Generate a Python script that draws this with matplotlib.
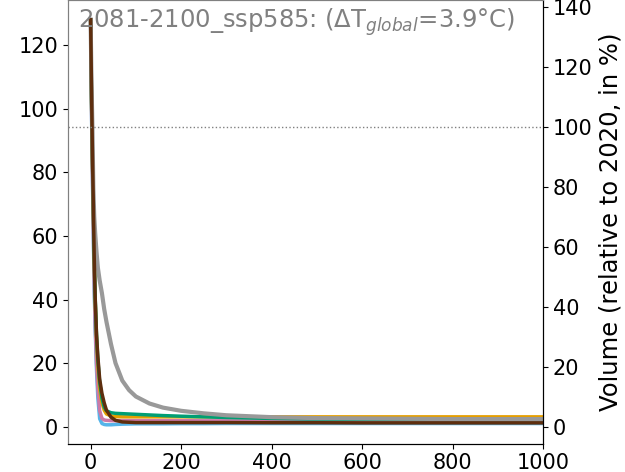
import matplotlib
matplotlib.use("Agg")
import matplotlib.pyplot as plt

# simulation years (shared x grid for all runs)
years = [0, 2, 4, 6, 8, 10, 13, 16, 20, 25, 30, 35, 45, 55, 70, 85, 100,
         130, 160, 200, 250, 300, 400, 500, 600, 800, 1000]

# glacier volume per run (same units as left axis)
vol_lightblue = [128, 98, 78, 60, 43, 31, 18, 9, 2.5, 1.0, 0.7, 0.6, 0.6, 0.7, 0.8, 0.85, 0.9,
                 0.9, 0.9, 0.95, 0.95, 1.0, 1.0, 1.0, 1.0, 1.0, 1.0]
vol_pink = [128, 100, 80, 62, 45, 33, 20, 12, 5, 2.6, 2.1, 2.0, 1.9, 1.9, 1.9, 1.9, 1.9,
            1.9, 1.9, 1.9, 1.85, 1.85, 1.8, 1.8, 1.8, 1.8, 1.8]
vol_orange = [128, 102, 84, 68, 52, 40, 28, 19, 12, 7.5, 5.2, 4.0, 3.4, 3.2, 3.1, 3.1, 3.1,
              3.1, 3.1, 3.1, 3.1, 3.1, 3.1, 3.1, 3.1, 3.1, 3.1]
vol_green = [128, 103, 85, 69, 53, 41, 29, 21, 14, 9, 6.2, 5.0, 4.4, 4.2, 4.1, 4.0, 3.9,
             3.7, 3.5, 3.3, 3.1, 2.9, 2.6, 2.4, 2.3, 2.2, 2.2]
vol_gray = [128, 108, 94, 75, 66, 61, 55, 50, 46, 42, 37, 33, 26, 20, 14.5, 11.5, 9.5,
            7.3, 6.0, 5.0, 4.2, 3.6, 3.0, 2.7, 2.6, 2.4, 2.4]
vol_brown = [128, 106, 86, 70, 53, 41, 29, 22, 15, 10.5, 7.5, 5.2, 3.0, 2.0, 1.5, 1.4, 1.3,
             1.3, 1.3, 1.3, 1.3, 1.3, 1.25, 1.25, 1.2, 1.2, 1.2]

ref_vol_2020 = 94.35
title = r"2081-2100_ssp585: ($\Delta$T$_{global}$=3.9°C)"

fig = plt.figure(figsize=(6.25, 4.72), dpi=100)
ax = fig.add_axes([68 / 625, 28 / 472, 475 / 625, 444 / 472])

runs = [
    (vol_lightblue, "#56B4E9", 2.5),
    (vol_pink, "#CC79A7", 2.5),
    (vol_orange, "#E69F00", 2.5),
    (vol_green, "#009E73", 2.5),
    (vol_gray, "#999999", 3.0),
    (vol_brown, "#5e2e0e", 2.5),
]
for values, color, lw in runs:
    ax.plot(years, values, color=color, lw=lw)

ax.axhline(ref_vol_2020, color="gray", ls=":", lw=1)

ax.set_xlim(-50, 1000)
ylo, yhi = -5.44, 134.2
ax.set_ylim(ylo, yhi)
ax.set_xticks([0, 200, 400, 600, 800, 1000])
ax.set_yticks([0, 20, 40, 60, 80, 100, 120])
ax.tick_params(labelsize=15)
ax.tick_params(axis="x", pad=3)

ax.text(0.021, 0.985, title, transform=ax.transAxes, ha="left", va="top",
        color="gray", fontsize=17.5)

ax2 = ax.twinx()
ax2.set_ylim(ylo * 100 / ref_vol_2020, yhi * 100 / ref_vol_2020)
ax2.set_yticks([0, 20, 40, 60, 80, 100, 120, 140])
ax2.tick_params(labelsize=15)
ax2.set_ylabel("Volume (relative to 2020, in %)", fontsize=17.5)

for a in (ax, ax2):
    a.spines["left"].set_color("gray")
    a.spines["top"].set_color("gray")

fig.savefig("out.png", dpi=100)
